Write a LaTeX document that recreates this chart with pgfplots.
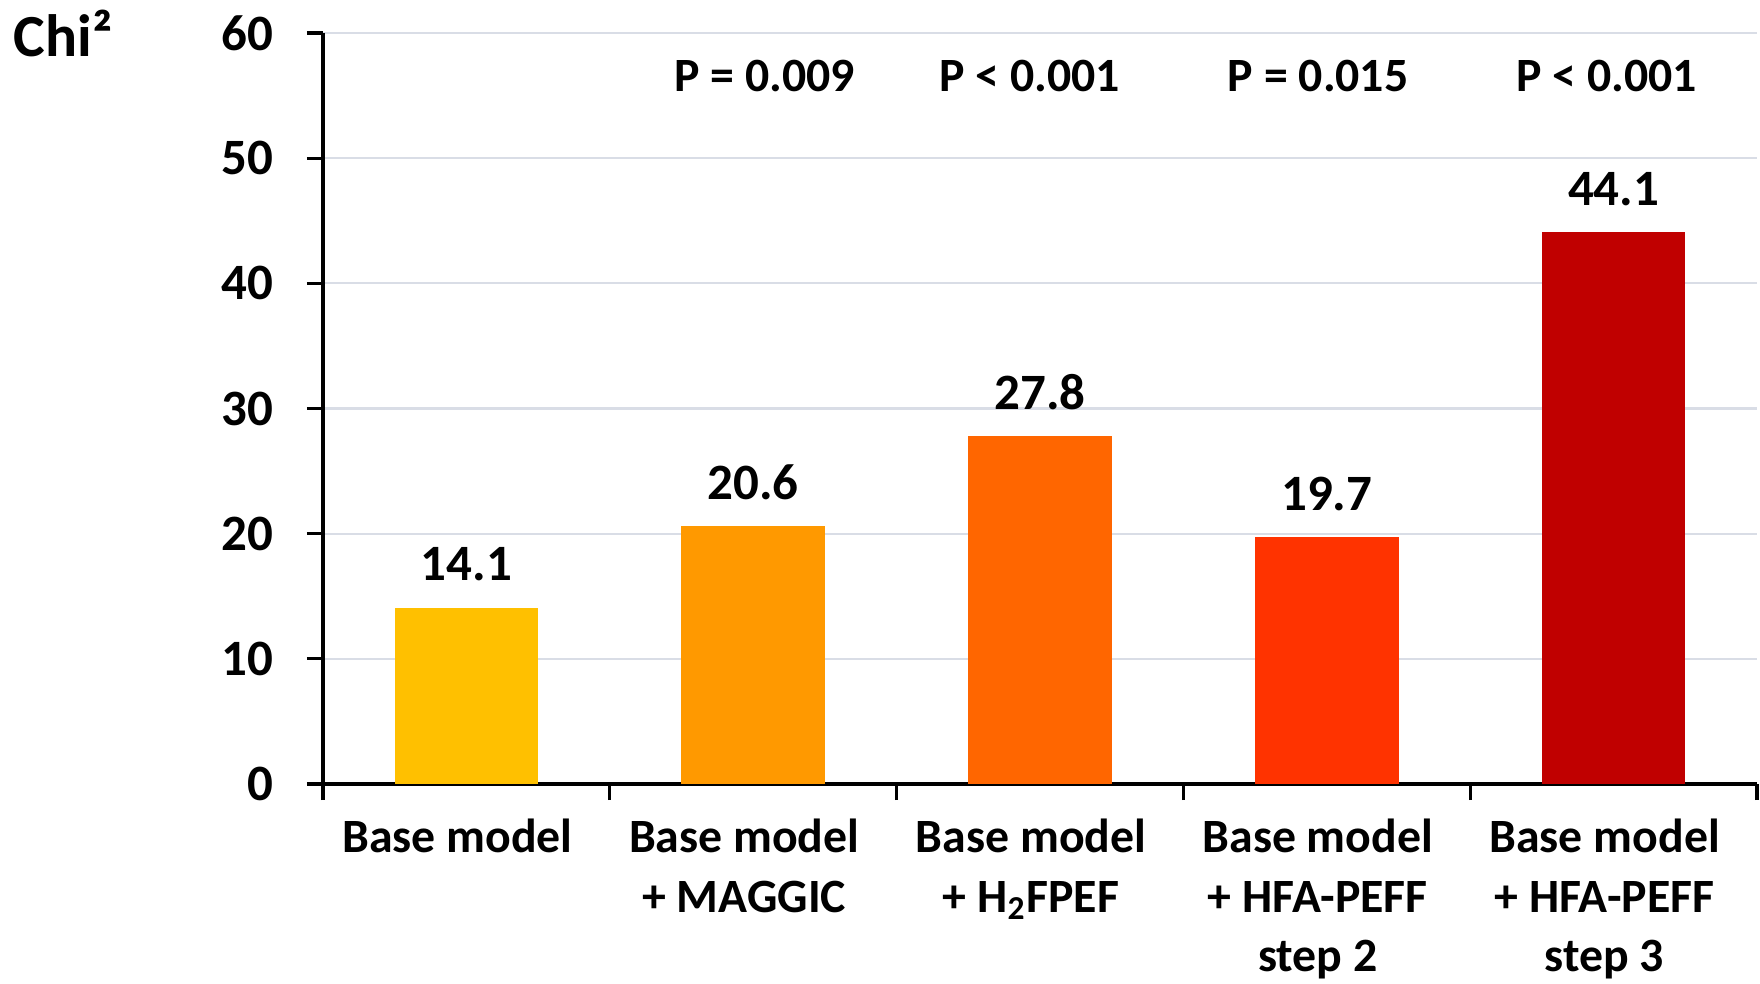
\documentclass[border=0pt]{standalone}
\usepackage{fontspec}
\setmainfont{Carlito}
\usepackage{pgfplots}
\pgfplotsset{compat=1.18}

\definecolor{barA}{HTML}{FFC000}
\definecolor{barB}{HTML}{FF9900}
\definecolor{barC}{HTML}{FF6600}
\definecolor{barD}{HTML}{FF3300}
\definecolor{barE}{HTML}{C00000}
\definecolor{gridc}{HTML}{D9DDE6}

\newcommand{\lbl}{\fontsize{14.5}{16.6}\selectfont\bfseries}
\newcommand{\cat}{\fontsize{13.6}{16.8}\selectfont\bfseries}

\begin{document}
\begin{tikzpicture}
\path[use as bounding box] (-32.3mm,-19.9mm) rectangle (143.7mm,78.4mm);
\begin{axis}[
    scale only axis,
    width=143.4mm, height=75.1mm,
    xmin=-0.5, xmax=4.5,
    ymin=0, ymax=60,
    axis lines*=left,
    axis line style={line width=0.9pt},
    tick style={line width=0.9pt, black},
    tick align=outside,
    major tick length=1.6mm,
    ytick={0,10,20,30,40,50,60},
    xtick={-0.5,0.5,1.5,2.5,3.5,4.5},
    x tick label as interval,
    xticklabels={Base model,
                 {Base model\\+ MAGGIC},
                 {Base model\\+ H\textsubscript{2}FPEF},
                 {Base model\\+ HFA-PEFF\\step 2},
                 {Base model\\+ HFA-PEFF\\step 3}},
    xticklabel style={font=\cat, align=center, yshift=-0.7mm, xshift=-0.9mm},
    yticklabel style={font=\lbl, xshift=-2.1mm},
    /pgf/number format/assume math mode=true,
    ymajorgrids,
    grid style={gridc, line width=0.6pt},
    nodes near coords={\pgfmathprintnumber[fixed,fixed zerofill,precision=1,assume math mode=true]{\pgfplotspointmeta}},
    every node near coord/.append style={font=\lbl, anchor=base, yshift=2.7mm, black},
    clip=false,
]
\addplot[ybar, bar width=0.5, bar shift=0pt, fill=barA, draw=none] coordinates {(0,14.1)};
\addplot[ybar, bar width=0.5, bar shift=0pt, fill=barB, draw=none] coordinates {(1,20.6)};
\addplot[ybar, bar width=0.5, bar shift=0pt, fill=barC, draw=none] coordinates {(2,27.8)};
\addplot[ybar, bar width=0.5, bar shift=0pt, fill=barD, draw=none] coordinates {(3,19.7)};
\addplot[ybar, bar width=0.5, bar shift=0pt, fill=barE, draw=none] coordinates {(4,44.1)};

\node[font=\cat, anchor=base] at (axis cs:1.04,55.3) {P = 0.009};
\node[font=\cat, anchor=base] at (axis cs:1.965,55.3) {P < 0.001};
\node[font=\cat, anchor=base] at (axis cs:2.97,55.3) {P = 0.015};
\node[font=\cat, anchor=base] at (axis cs:3.975,55.3) {P < 0.001};

\node[font=\fontsize{17}{20}\selectfont\bfseries, anchor=base west, inner sep=0pt]
    at ([xshift=-31mm, yshift=-2.3mm]rel axis cs:0,1) {Chi²};
\end{axis}
\end{tikzpicture}
\end{document}
